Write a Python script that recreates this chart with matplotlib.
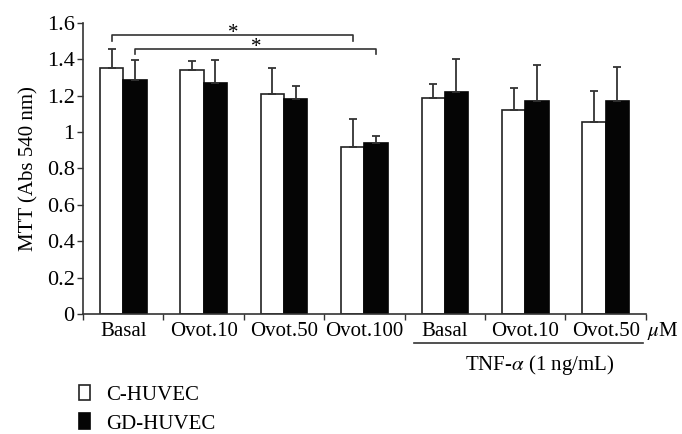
import numpy as np
import matplotlib
matplotlib.use("Agg")
import matplotlib.pyplot as plt
from matplotlib.patches import Patch

plt.rcParams['font.family'] = ['Liberation Serif', 'DejaVu Serif']
plt.rcParams['mathtext.fontset'] = 'stix'

# Datos
categorias = ['Basal', 'Ovot.10', 'Ovot.50', 'Ovot.100', 'Basal', 'Ovot.10', 'Ovot.50']
c_huvec = [1.352, 1.341, 1.206, 0.916, 1.186, 1.120, 1.055]
c_huvec_err = [0.103, 0.050, 0.143, 0.156, 0.078, 0.122, 0.172]
gd_huvec = [1.286, 1.268, 1.180, 0.938, 1.220, 1.169, 1.169]
gd_huvec_err = [0.110, 0.128, 0.075, 0.037, 0.180, 0.201, 0.186]

fig = plt.figure(figsize=(6.82, 4.34), dpi=100)
ax = fig.add_axes([0.1217, 0.2765, 0.8253, 0.6712])

x = np.arange(len(categorias)) + 0.5
w = 0.29
err_kw = dict(ecolor='#333333', elinewidth=1.3, capthick=1.3)

ax.bar(x - w / 2, c_huvec, w, color='white', edgecolor='#222222', linewidth=1.2,
       yerr=[np.zeros(7), c_huvec_err], capsize=2.8, error_kw=err_kw, zorder=2)
ax.bar(x + w / 2, gd_huvec, w, color='#050505', edgecolor='#050505', linewidth=1.2,
       yerr=[np.zeros(7), gd_huvec_err], capsize=2.8, error_kw=err_kw, zorder=2)

# Ejes
ax.set_xlim(0, 7)
ax.set_ylim(0, 1.6)
ax.set_yticks([0, 0.2, 0.4, 0.6, 0.8, 1, 1.2, 1.4, 1.6])
ax.set_yticklabels(['0', '0.2', '0.4', '0.6', '0.8', '1', '1.2', '1.4', '1.6'])
ax.set_xticks(x)
ax.set_xticklabels(categorias, fontsize=15)
ax.set_xticks(np.arange(8), minor=True)
ax.tick_params(axis='x', which='major', length=0, pad=6)
ax.tick_params(axis='x', which='minor', length=4, width=1, color='#333333')
ax.tick_params(axis='y', labelsize=16, length=4, width=1, color='#333333', pad=2)
for s in ['top', 'right']:
    ax.spines[s].set_visible(False)
for s in ['left', 'bottom']:
    ax.spines[s].set_linewidth(1.2)
    ax.spines[s].set_color('#333333')
ax.set_ylabel('MTT (Abs 540 nm)', fontsize=15, labelpad=6)

# Corchetes de significancia
ax.plot([x[0] - w / 2, x[0] - w / 2, x[3] - w / 2, x[3] - w / 2],
        [1.497, 1.534, 1.534, 1.497], color='#333333', lw=1.2, clip_on=False)
ax.plot([x[0] + w / 2, x[0] + w / 2, x[3] + w / 2, x[3] + w / 2],
        [1.43, 1.455, 1.455, 1.43], color='#333333', lw=1.2, clip_on=False)
ax.text(1.865, 1.49, '*', ha='center', va='bottom', fontsize=15, clip_on=False)
ax.text(2.15, 1.41, '*', ha='center', va='bottom', fontsize=15, clip_on=False)

# Etiquetas de grupo
trans = matplotlib.transforms.blended_transform_factory(ax.transData, ax.transAxes)
ax.text(7.21, -0.058, r'$\mu$M', transform=trans, ha='center', va='center', fontsize=15)
ax.plot([4.115, 6.96], [-0.0996, -0.0996], transform=trans, color='#333333', lw=1.2,
        clip_on=False)
ax.text(5.68, -0.175, r'TNF-$\alpha$ (1 ng/mL)', transform=trans, ha='center',
        va='center', fontsize=15)

# Leyenda
handles = [Patch(facecolor='white', edgecolor='#222222', linewidth=1.2),
           Patch(facecolor='#050505', edgecolor='#050505', linewidth=1.2)]
fig.legend(handles, ['C-HUVEC', 'GD-HUVEC'], loc='upper left',
           bbox_to_anchor=(0.1, 0.138), frameon=False, fontsize=15,
           handlelength=0.55, handleheight=0.8, labelspacing=0.42, handletextpad=0.75,
           borderpad=0)

fig.savefig('out.png', dpi=100)
